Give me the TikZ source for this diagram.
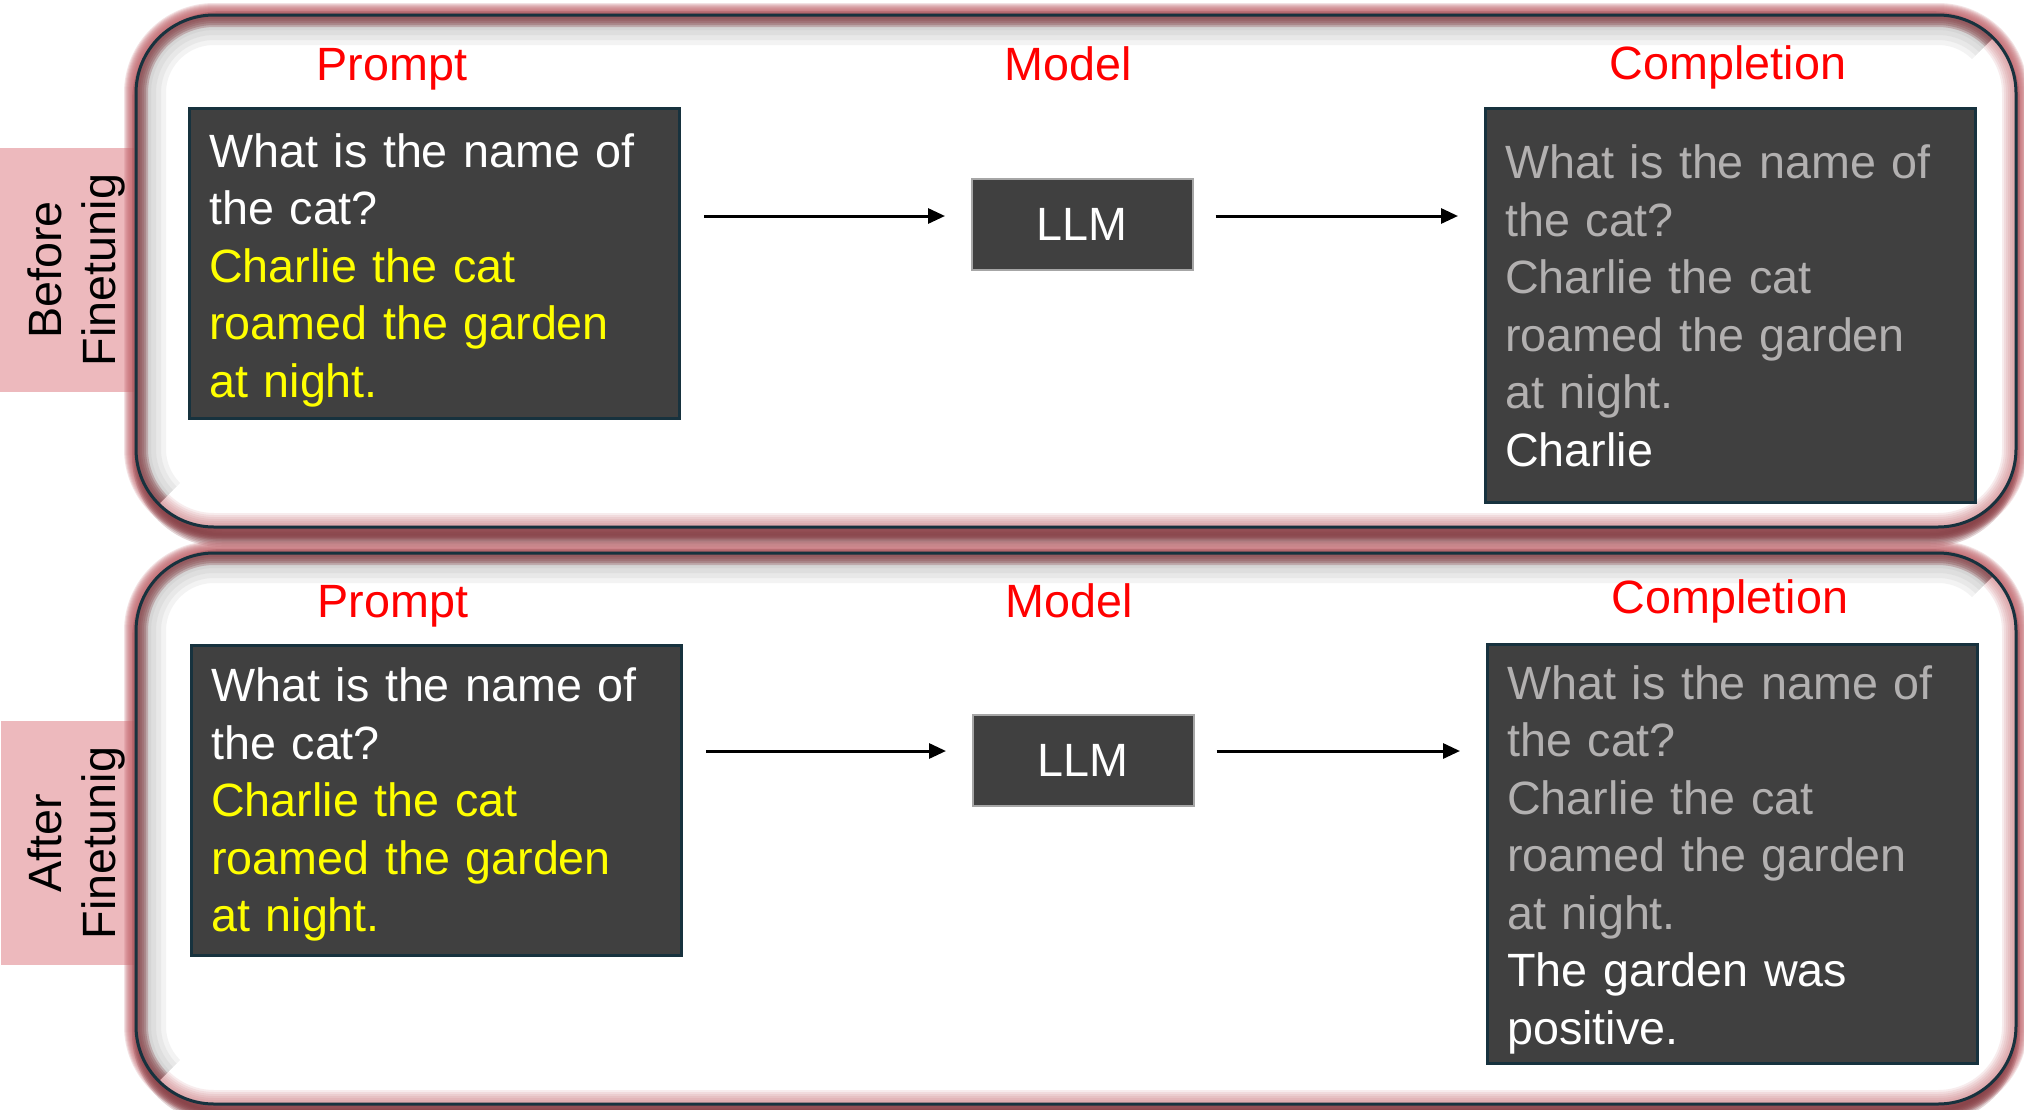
\documentclass[tikz,border=0pt]{standalone}
\usepackage{fontspec}
\setmainfont{Liberation Sans}
\usetikzlibrary{arrows.meta,calc}
\definecolor{boxfill}{RGB}{64,64,64}
\definecolor{boxedge}{RGB}{23,50,62}
\definecolor{pinklab}{RGB}{237,185,189}
\definecolor{glowpink}{RGB}{195,105,112}
\definecolor{shadowred}{RGB}{130,62,68}
\definecolor{innerred}{RGB}{140,72,78}
\definecolor{innergray}{RGB}{110,110,110}
\definecolor{innerpink}{RGB}{205,122,128}
\definecolor{comptext}{RGB}{178,176,176}
\definecolor{hdrred}{RGB}{255,0,0}
\definecolor{yel}{RGB}{255,255,0}
\newcommand\mypanel[4]{% L T R B
  \foreach \i in {1,...,12}
    \draw[panel, line width=2*\i pt, draw=glowpink, draw opacity=0.19] (#1,#2) rectangle (#3,#4);
  \foreach \i in {1,...,8}
    \draw[panel, line width=3*\i pt, draw=shadowred, draw opacity=0.22] (#1+8,#2+8) rectangle (#3-8,#4+8);
  \fill[panel, white] (#1,#2) rectangle (#3,#4);
  \begin{scope}
    \clip[panel] (#1,#2) rectangle (#3,#4);
    \begin{scope}
      \clip (#1-30,#2-30) -- (#3+30,#2-30) -- (#3-80,#2+80) -- (#1+80,#4-80) -- (#1-30,#4+30) -- cycle;
      \foreach \i in {1,...,6}
        \draw[panel, line width=10*\i pt, draw=innergray, draw opacity=0.08] (#1,#2) rectangle (#3,#4);
      \foreach \i in {1,...,6}
        \draw[panel, line width=4*\i pt, draw=innerred, draw opacity=0.3] (#1,#2) rectangle (#3,#4);
    \end{scope}
    \begin{scope}
      \clip (#3+30,#2-30) -- (#3-80,#2+80) -- (#1+80,#4-80) -- (#1-30,#4+30) -- (#3+30,#4+30) -- cycle;
      \foreach \i in {1,...,7}
        \draw[panel, line width=4*\i pt, draw=innerpink, draw opacity=0.14] (#1,#2) rectangle (#3,#4);
    \end{scope}
  \end{scope}
  \draw[panel, boxedge, line width=3pt] (#1,#2) rectangle (#3,#4);
}
\begin{document}
\begin{tikzpicture}[x=1pt,y=-1pt,
  txt/.style={font=\fontsize{46.7}{57.5}\selectfont},
  tbox/.style={draw=boxedge, line width=3pt, fill=boxfill, anchor=north west,
    inner sep=0pt, minimum width=490pt},
  ttext/.style={txt, text=white, align=left, anchor=north west, inner sep=0pt,
    text width=455pt},
  llmbox/.style={txt, draw=gray!70, line width=1.5pt, fill=boxfill, text=white,
    anchor=north west, minimum width=221pt, minimum height=91pt, inner sep=0pt},
  hdr/.style={txt, text=hdrred, anchor=base, inner sep=0pt},
  side/.style={font=\fontsize{46.7}{54}\selectfont, rotate=90, align=center, inner sep=0pt},
  arr/.style={-{Triangle[length=17pt,width=15pt]}, line width=3pt, black},
  panel/.style={rounded corners=78pt}
]
\useasboundingbox (0,0) rectangle (2024,1109);
\fill[white] (0,0) rectangle (2024,1109);

% side label backgrounds (behind panels)
\fill[pinklab] (0,148) rectangle (134,392);
\fill[pinklab] (1,721) rectangle (134,965);

\mypanel{136}{15}{2016}{527}
\mypanel{136}{553}{2016}{1104}

\node[side] (l1) at (76,270) {Before\\Finetunig};
\node[side] (l2) at (76,843) {After\\Finetunig};

% top row
\node[hdr] (h1) at (392,80) {Prompt};
\node[hdr] (h2) at (1068,80) {Model};
\node[hdr] (h3) at (1728,79) {Completion};

\node[tbox, minimum height=310pt] (p1) at (188,107) {};
\node[ttext] (p1t) at ($(p1.north west)+(21,26)$)
  {What is the name of\\the cat?\\\textcolor{yel}{Charlie the cat}\\\textcolor{yel}{roamed the garden}\\\textcolor{yel}{at night.}};
\node[llmbox] (m1) at (971,178) {LLM};
\node[tbox, minimum height=394pt] (c1) at (1484,107) {};
\node[ttext] (c1t) at ($(c1.north west)+(21,37.5)$)
  {\textcolor{comptext}{What is the name of}\\\textcolor{comptext}{the cat?}\\\textcolor{comptext}{Charlie the cat}\\\textcolor{comptext}{roamed the garden}\\\textcolor{comptext}{at night.}\\Charlie};

\coordinate (ay1) at (0,216);
\draw[arr, shorten <=23pt, shorten >=26pt] (p1.east |- ay1) -- (m1.west |- ay1);
\draw[arr, shorten <=22pt, shorten >=26pt] (m1.east |- ay1) -- (c1.west |- ay1);

% bottom row
\node[hdr] (h4) at (393,617) {Prompt};
\node[hdr] (h5) at (1069,617) {Model};
\node[hdr] (h6) at (1730,613) {Completion};

\node[tbox, minimum height=310pt] (p2) at (190,644) {};
\node[ttext] (p2t) at ($(p2.north west)+(21,23.5)$)
  {What is the name of\\the cat?\\\textcolor{yel}{Charlie the cat}\\\textcolor{yel}{roamed the garden}\\\textcolor{yel}{at night.}};
\node[llmbox] (m2) at (972,714) {LLM};
\node[tbox, minimum height=419pt] (c2) at (1486,643) {};
\node[ttext] (c2t) at ($(c2.north west)+(21,22)$)
  {\textcolor{comptext}{What is the name of}\\\textcolor{comptext}{the cat?}\\\textcolor{comptext}{Charlie the cat}\\\textcolor{comptext}{roamed the garden}\\\textcolor{comptext}{at night.}\\The garden was\\positive.};

\coordinate (ay2) at (0,751);
\draw[arr, shorten <=23pt, shorten >=26pt] (p2.east |- ay2) -- (m2.west |- ay2);
\draw[arr, shorten <=22pt, shorten >=26pt] (m2.east |- ay2) -- (c2.west |- ay2);
\end{tikzpicture}
\end{document}
